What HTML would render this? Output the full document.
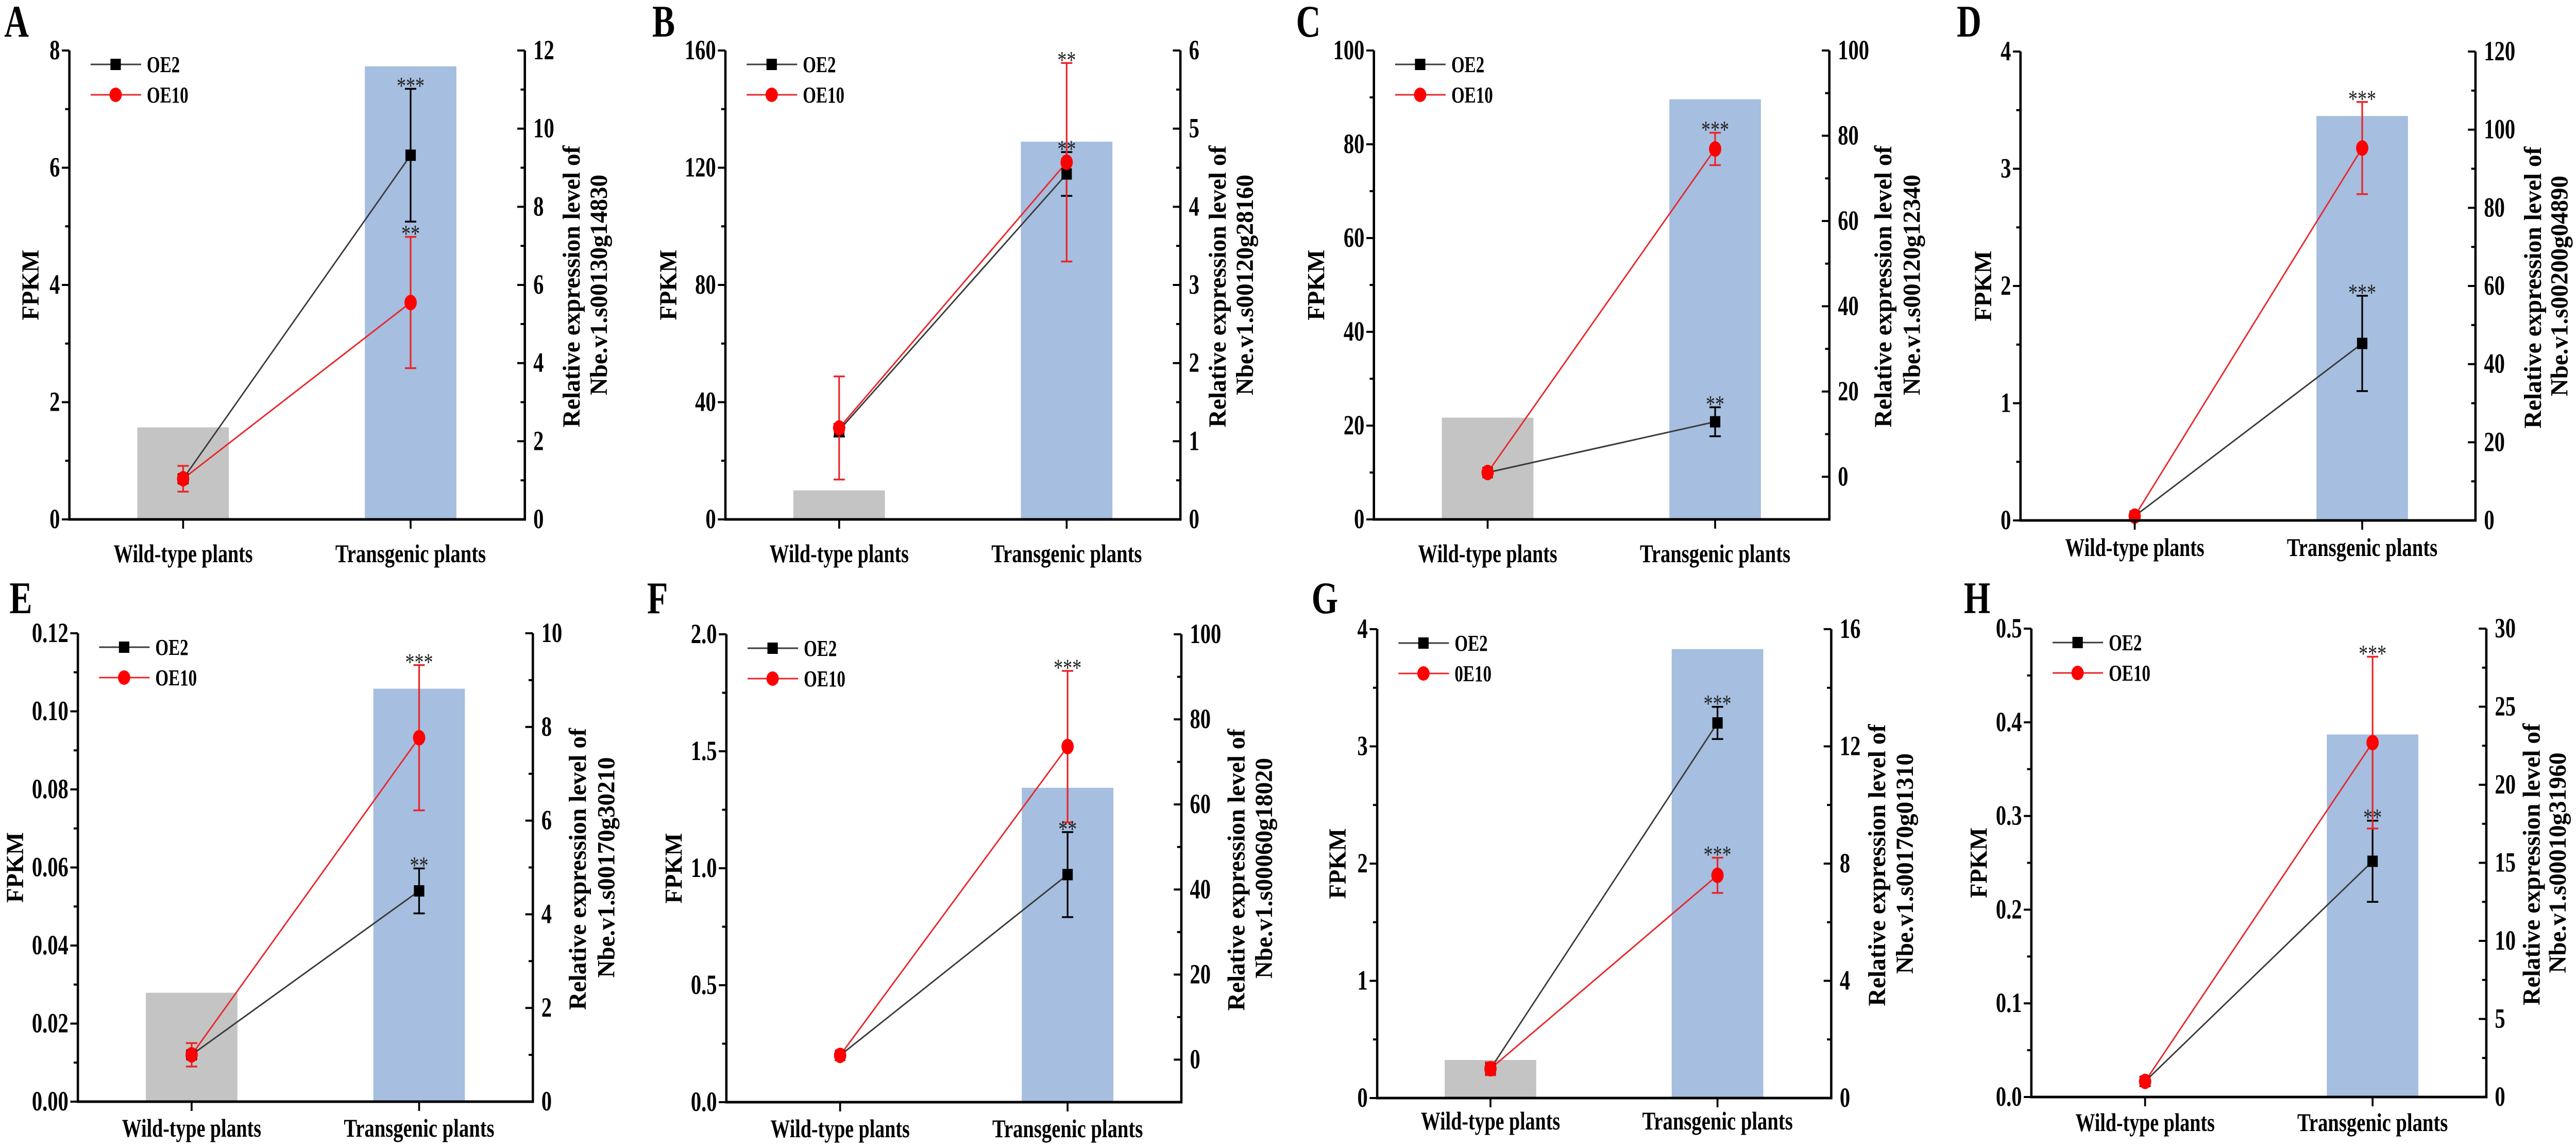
<!DOCTYPE html>
<html><head><meta charset="utf-8"><style>
html,body{margin:0;padding:0;background:#fff;overflow:hidden;width:100%;height:100%;}
svg{display:block;width:100vw;height:100vh;}
text{font-family:"Liberation Serif","Times New Roman",serif;}
</style></head><body>
<svg id="fig" viewBox="0 0 5458 2226" preserveAspectRatio="none" xmlns="http://www.w3.org/2000/svg" font-family="Liberation Serif, serif"></svg>
<script>
// ---------- data ----------
const panelLetters = ['A','B','C','D','E','F','G','H'];
const geneIds = ['Nbe.v1.s00130g14830','Nbe.v1.s00120g28160','Nbe.v1.s00120g12340','Nbe.v1.s00200g04890','Nbe.v1.s00170g30210','Nbe.v1.s00060g18020','Nbe.v1.s00170g01310','Nbe.v1.s00010g31960'];
const categories = ['Wild-type plants','Transgenic plants'];
const fpkmWild = [1.57, 9.9, 21.7, 0, 0.0279, 0, 0.325, 0];
const fpkmTrans = [7.73, 128.9, 89.6, 3.45, 0.1058, 1.344, 3.83, 0.387];
const oe2Wild = [1.04, 1.14, 1.0, 1.1, 1.0, 1.0, 1.0, 1.0];
const oe2WildErr = [0.1, 0.08, 0.5, 0.5, 0.08, 0.5, 0.1, 0.3];
const oe2Trans = [9.32, 4.42, 12.9, 45.3, 4.5, 43.5, 12.8, 15.1];
const oe2TransErr = [1.7, 0.28, 3.4, 12.2, 0.48, 10.0, 0.55, 2.6];
const oe10Wild = [1.04, 1.17, 1.0, 1.1, 1.0, 1.0, 1.0, 1.0];
const oe10WildErr = [0.33, 0.66, 0.5, 0.5, 0.25, 0.5, 0.22, 0.3];
const oe10Trans = [5.55, 4.57, 76.9, 95.3, 7.77, 73.6, 7.6, 22.7];
const oe10TransErr = [1.68, 1.27, 3.8, 11.8, 1.55, 17.8, 0.6, 5.5];
const oe2Stars = ['***','**','**','***','**','**','***','**'];
const oe10Stars = ['**','**','***','***','***','***','***','***'];
const leftMin = [0,0,0,0,0,0,0,0];
const leftMax = [8,160,100,4,0.12,2,4,0.5];
const leftStep = [2,40,20,1,0.02,0.5,1,0.1];
const leftDecimals = [0,0,0,0,2,1,0,1];
const rightMin = [0,0,-10,0,0,-10,0,0];
const rightMax = [12,6,100,120,10,100,16,30];
const rightStart = [0,0,0,0,0,0,0,0];
const rightStep = [2,1,20,20,2,20,4,5];
const legendLabels10 = ['OE10','OE10','OE10',null,'OE10','OE10','0E10','OE10'];
const showLegend = [true,true,true,false,true,true,true,true];

// ---------- layout (pixels) ----------
const layout = [
 {L:147,R:1112,T:98,B:1008,xw:388,xt:870,lx:9,ly:67,xo:83,fo:-83,r1:98,r2:156},
 {L:1537,R:2501,T:98,B:1008,xw:1778,xt:2260,lx:1382,ly:67,xo:83,fo:-122,r1:78,r2:136},
 {L:2911,R:3876,T:98,B:1008,xw:3152,xt:3634,lx:2746,ly:67,xo:83,fo:-123,r1:113,r2:174},
 {L:4281,R:5245,T:100,B:1010,xw:4523,xt:5005,lx:4146,ly:67,xo:69,fo:-80,r1:121,r2:177},
 {L:165,R:1129,T:1229,B:2138,xw:406,xt:888,lx:20,ly:1186,xo:68,fo:-134,r1:94,r2:155},
 {L:1539,R:2503,T:1231,B:2139,xw:1780,xt:2262,lx:1371,ly:1186,xo:68,fo:-112,r1:116,r2:174},
 {L:2918,R:3880,T:1221,B:2131,xw:3158,xt:3639,lx:2779,ly:1186,xo:61,fo:-85,r1:96,r2:155},
 {L:4304,R:5268,T:1220,B:2129,xw:4545,xt:5027,lx:4161,ly:1186,xo:66,fo:-112,r1:95,r2:150}
];
const NS='http://www.w3.org/2000/svg';
const svg=document.getElementById('fig');
const SX=0.82;
const FF='"Liberation Serif","Times New Roman",serif';
function mk(tag,attrs,parent){const e=document.createElementNS(NS,tag);for(const k in attrs)e.setAttribute(k,attrs[k]);(parent||svg).appendChild(e);return e;}
function txt(parent,x,y,s,size,anchor,weight){const t=mk('text',{transform:`translate(${x},${y}) scale(${SX},1)`,'font-size':size,'font-family':FF,'text-anchor':anchor||'start','font-weight':weight||'bold',fill:'#000'},parent);t.textContent=s;return t;}

for(let p=0;p<8;p++){
  const Lo=layout[p];
  const g=mk('g',{});
  
  
  const yL=v=>Lo.B-(v-leftMin[p])/(leftMax[p]-leftMin[p])*(Lo.B-Lo.T);
  const yR=v=>Lo.B-(v-rightMin[p])/(rightMax[p]-rightMin[p])*(Lo.B-Lo.T);
  const xs=[Lo.xw,Lo.xt];
  const lt=txt(g,Lo.lx,Lo.ly+4,panelLetters[p],88,'start','bold');
  
  
  const bv=[fpkmWild[p],fpkmTrans[p]];const bc=['#c4c4c4','#a6bedf'];
  for(let i=0;i<2;i++){
    if(bv[i]<=0)continue;
    const r=mk('rect',{x:xs[i]-97,y:yL(bv[i]),width:194,height:Lo.B-yL(bv[i]),fill:bc[i]},g);
    
    
  }
  const series=[
    {name:'oe2',w:oe2Wild[p],we:oe2WildErr[p],t:oe2Trans[p],te:oe2TransErr[p],c:'#000',lc:'#3a3a3a',st:oe2Stars[p],sq:true},
    {name:'oe10',w:oe10Wild[p],we:oe10WildErr[p],t:oe10Trans[p],te:oe10TransErr[p],c:'#f00',lc:'#e8262a',st:oe10Stars[p],sq:false}
  ];
  series.forEach(s=>{
    const ln=mk('line',{x1:xs[0],y1:yR(s.w),x2:xs[1],y2:yR(s.t),stroke:s.lc,'stroke-width':3},g);
    
    
  });
  series.forEach(s=>{
    const vals=[[s.w,s.we],[s.t,s.te]];
    vals.forEach((v,i)=>{
      const x=xs[i],y1=yR(v[0]+v[1]),y2=yR(v[0]-v[1]);
      const eb=mk('path',{d:`M${x},${y1}V${y2}M${x-12},${y1}H${x+12}M${x-12},${y2}H${x+12}`,stroke:s.c==='#000'?'#000':'#e8262a','stroke-width':3.5,fill:'none'},g);
      
      
    });
  });
  series.forEach(s=>{
    [s.w,s.t].forEach((v,i)=>{
      const x=xs[i],y=yR(v);let m;
      if(s.sq) m=mk('rect',{x:x-11,y:y-11,width:22,height:22,fill:'#000'},g);
      else m=mk('ellipse',{cx:x,cy:y,rx:13,ry:15,fill:'#f00'},g);
      
      
    });
    const st=txt(g,xs[1],yR(s.t+s.te)+10,s.st,48,'middle','normal');
    st.setAttribute('fill','#222');
    
    
  });
  const ax=mk('path',{d:`M${Lo.L},${Lo.T}V${Lo.B}H${Lo.R}V${Lo.T}`,stroke:'#000','stroke-width':5,fill:'none'},g);
  
  
  const lstep=leftStep[p];
  for(let k=0;leftMin[p]+k*lstep/2<=leftMax[p]+1e-9;k++){
    const v=leftMin[p]+k*lstep/2,y=yL(v),major=k%2===0;
    mk('line',{x1:Lo.L-(major?16:9),y1:y,x2:Lo.L,y2:y,stroke:'#000','stroke-width':4},g);
    if(major){const t=txt(g,Lo.L-20,y+17,v.toFixed(leftDecimals[p]),54,'end','bold');
      
      }
  }
  const rstep=rightStep[p];
  for(let v=rightMin[p];v<=rightMax[p]+1e-9;v+=rstep/2){
    const y=yR(v);const major=Math.abs(((v-rightStart[p])/rstep)-Math.round((v-rightStart[p])/rstep))<1e-6;
    mk('line',{x1:Lo.R-(major?16:9),y1:y,x2:Lo.R,y2:y,stroke:'#000','stroke-width':4},g);
    if(major){const t=txt(g,Lo.R+18,y+17,String(Math.round(v*100)/100),54,'start','bold');
      
      }
  }
  const xlw=[295,319];
  for(let i=0;i<2;i++){
    mk('line',{x1:xs[i],y1:Lo.B,x2:xs[i],y2:Lo.B+18,stroke:'#000','stroke-width':4},g);
    const t=mk('text',{x:xs[i],y:Lo.B+Lo.xo,'font-size':50,'font-family':FF,'font-weight':'bold','text-anchor':'middle',textLength:xlw[i],lengthAdjust:'spacingAndGlyphs'},g);
    t.textContent=categories[i];
    
    
  }
  const cy=(Lo.T+Lo.B)/2;
  const fx=Lo.L+Lo.fo+18;
  const ft=mk('text',{transform:`translate(${fx},${cy}) rotate(-90)`,'font-size':52,'font-family':FF,'font-weight':'bold','text-anchor':'middle',textLength:137,lengthAdjust:'spacingAndGlyphs'},g);
  ft.textContent='FPKM';
  
  
  const r1=mk('text',{transform:`translate(${Lo.R+Lo.r1+18},${cy+3}) rotate(-90)`,'font-size':52,'font-family':FF,'font-weight':'bold','text-anchor':'middle',textLength:547,lengthAdjust:'spacingAndGlyphs'},g);
  r1.textContent='Relative expression level of';
  
  
  const r2=mk('text',{transform:`translate(${Lo.R+Lo.r2+18},${cy}) rotate(-90)`,'font-size':52,'font-family':FF,'font-weight':'bold','text-anchor':'middle',textLength:428,lengthAdjust:'spacingAndGlyphs'},g);
  r2.textContent=geneIds[p];
  
  
  if(showLegend[p]){
    const lg=mk('g',{},g);
    
    
    const e1y=Lo.T+27,e2y=Lo.T+86;
    mk('line',{x1:Lo.L+45,y1:e1y,x2:Lo.L+152,y2:e1y,stroke:'#3a3a3a','stroke-width':3},lg);
    mk('rect',{x:Lo.L+87,y:e1y-11,width:22,height:22,fill:'#000'},lg);
    const a=txt(lg,Lo.L+164,e1y+15,'OE2',44,'start','bold');
    
    
    mk('line',{x1:Lo.L+45,y1:e2y,x2:Lo.L+152,y2:e2y,stroke:'#e8262a','stroke-width':3},lg);
    mk('ellipse',{cx:Lo.L+98,cy:e2y,rx:13,ry:14,fill:'#f00'},lg);
    const b=txt(lg,Lo.L+164,e2y+15,legendLabels10[p],44,'start','bold');
    
    
  }
}
</script>
</body></html>
